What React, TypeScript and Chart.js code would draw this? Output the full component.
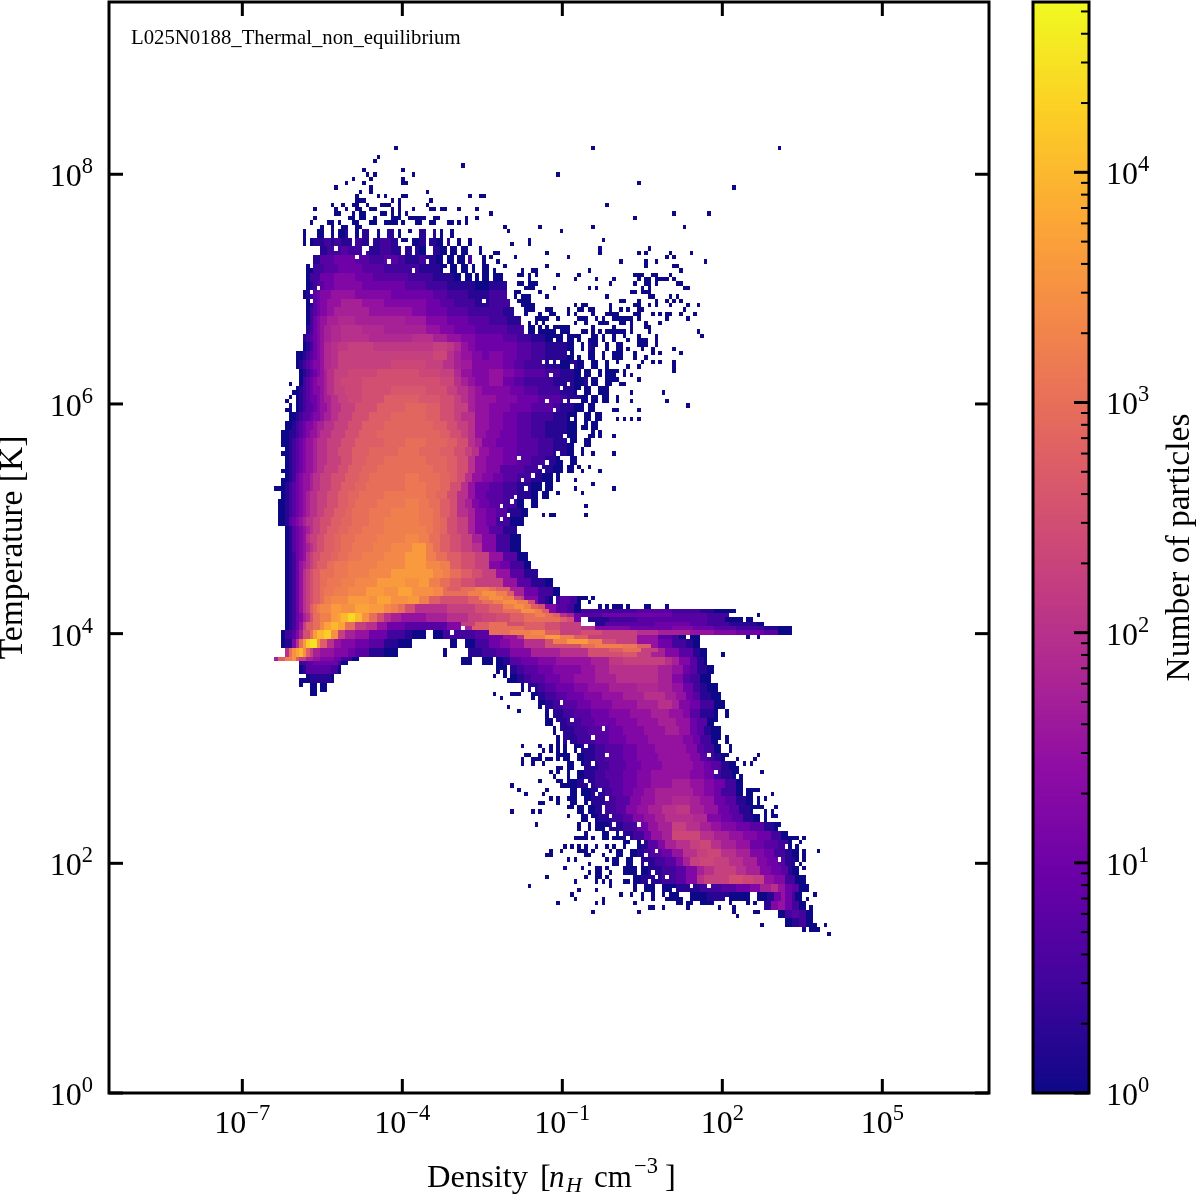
import React, { useEffect, useRef } from "react";
import { Chart, registerables } from "chart.js";

Chart.register(...registerables);

// Histogram grid: 250 x 250 bins, log10 density -9.5..7, log10 temperature 9.5..0 (row 0 on top)
const logDensityMin = -9.5;
const logDensityMax = 7;
const logTempMin = 0;
const logTempMax = 9.5;
const binCount = 250;
const logCountMax = 4.74;
const levelStep = 0.125; // a = 10^0 particles, A = 10^0.125, b = 10^0.25, ...
const levelLetters = "aAbBcCdDeEfFgGhHiIjJkKlLmMnNoOpPqQrRsStT";

const xTickValues = [1e-7, 1e-4, 1e-1, 1e2, 1e5];
const yTickValues = [1, 1e2, 1e4, 1e6, 1e8];
const barTickValues = [1, 10, 100, 1000, 10000];

// [row, run-length cells]: "<first column><level>..." spanning two rows; "." = empty
const bodyRows: [number, string][] = [
  [52, "55a56.59a61.63a64.65a67b68.70a71.72b74.76a77.79b81.82a83.85a86.88b90.92b93.94a95.97a98."],
  [54, "55a56.57a58b61c63b64c66b69.70c72b74.75b77c80b82.83a85.86a88b90.91b93a95.96b97.99a100.102a103."],
  [56, "60b62c66d68c70c72.73c74b77c80b83.84b86.87b88a90.92b94a96.97a99.100a102.105a106."],
  [58, "58b60d64e70d74c78d82c84b88c90b93a95.96a98.99a101.102c103.106a107."],
  [60, "56a58c61d65e72d78c82c88b94a96.97a99.100a102.103a104.106a108."],
  [62, "56a57c60e64f70e75d80d85c92b98a100.101a103.104a105.106a108.109a112."],
  [64, "56a57b58c59d61e64f70f72e78e84d88d90c96b104a108b113."],
  [66, "55a56b57c58d59e60f63g70f75f80e86e92d96c102b108c113."],
  [68, "56a57b58d59e60f62g66h72g78f84f90e94d98c104b108c114."],
  [70, "56a57c58d59e60f62g64h68h74g80g86f90e96d102c108c112b115."],
  [72, "56a57c58e59f60g62h65H70h76h80h84G90f96e102d108c113b117."],
  [74, "56b57c58e59f60g61h63H66i72H78h84h90g94f98e104d108d113c118."],
  [76, "55b56c57d58e59f60g61h63H66i70i74H80H86i92h96g100f104e108e112d116c120b124a126.127a129.130a132.133a134."],
  [78, "55a56b57c58e59f60g61H63i65I68j75I85I92j96I98H100g102f104e108e112e116d120c124b128b130a132.134a135.136b137a139.141a142.144a146."],
  [80, "53a55b56c57d58e59f60g61H63i65j72j85j92J96i98h100g103f106e108f112e116d120c124b128b130a132.133a134.136a138.140a141.143a146."],
  [82, "53a54b55c56d57e58f60g61H63i65j70j80J90j95i98h100G103f106f108f112e115d118c124b128a131b133a135.137a139.141a142."],
  [84, "54a55b56c57d58e59f60g61h62i64j68J76k88J94j98H100g103f108g112f115e118d124c128b132a134.135a137.139a140.141a144."],
  [86, "54a55c56d57e58f59g61h62i64j66J72k88k94J98i100h102g104f108g112e115d118c126b132a135b136.137a139.141a143."],
  [88, "53a54b55c56d57e58f60g61h62i64j67J72k80K90k96j99i102h104g106f110f114e118d122c128b132a134.135a137.139a142."],
  [90, "53a54b55c56d57e59f60g61h63i65j68J72k78l88K94k98j100i102h104g106g110f116e122d128c130b134a136.137a139.140a142."],
  [92, "51a52.53a54b55c56d58e59f60g62h63i66j70k76l84L90l94k98j102h104g108f114e120d126c128b132a135.136a138."],
  [94, "51a53b54c55d57e58f60g61h63i65j69k74l80L90l94k98j100i104g108f112e116d120c126b130a133.135a137.138a140."],
  [96, "50a52b53c54d55e56f58g59h61i64j68k72l78L92l96k99j102i104g108f112e116d120c124b130a133.134a136.137a139."],
  [98, "49a51b53c54d55e56f57g59h60i63j67k71l76L94l97k100j102i104g107f111e116d120c124b130a133.136a138.139a140."],
  [100, "49a51b52c53d54e55f56g58h59i62j66k70l78L84m90L96l99k102i104h106f110e116d122c126b130a133.135a137."],
  [102, "50a51b52c53d54e55f56g58h59i62j65k69l74L82m88L94l98k101j103i105g108f112e116d122c126b130a132.134a135."],
  [104, "50a51b52c53d54e55f56g58h59i62j66k69l73L78m90L96l99k102i104g107f112e116d120c124b127a129.131a133."],
  [106, "50a51b52c53d54e55f56g58h59i61j65k68l72L76m92L96l99k102i104g107f111d118c122b126a129.130a132."],
  [108, "50a51b52c53e54f55g57h58i60j63k67l71L74m84M88m94L97l99k101i103g106f109e112d116c120b123a126.127a128."],
  [110, "49a50b51c52d53e54f55g57h58i60j63k66l70L73m84M90m94L97k100i102g104e108d112c116b120a123.124a126."],
  [112, "49a50b51c52d53e54f55g56h57i59j62k65l68L71m78M90m93L96k99i102g104e107d112c116b120a122.123a125."],
  [114, "48a50b51c52d53e54f55g56h57i59j62k65l68L70m76M84n88M91m94l97k99i101h103f105e108d112c116a118.120a122."],
  [116, "48a50b51c52d53e54f55g56h57i59j61k64l67L69m74M80n88M92m94l97k99i102h104f107e110d113b117a119."],
  [118, "48a50b51d52e53f54g55h56i58j60k63l66L69m74M78n88M92m94L96k99j102h104f107e110c114a118."],
  [120, "50a51b52d53e54f55g56h57i58j60k62l65L68m72M78n86n90M92m94L96k99j102h104f108d112b116."],
  [122, "50a51b52d53e54f55g56i57j59k61l64L66m70M76n84N88n91m94l97k100j103h106f110c114a117."],
  [124, "50a51b52d53e54f55g56h57i58j59k61l64L66m69M75n80N86O90n92m94l97k100j103i106f110c114a117."],
  [126, "50a51b52c53e54f55g56i57j58k60l63L65m68M72n78N84O90n93m96l100k104j108g112d116a119."],
  [128, "50a51b52c53e54g55h56i57j58k59l62m64M68n76N84O90N94n97l100k104j108f111e114c118a120."],
  [130, "50a51b52c53e54g55i56j57k58l60m64M68n74N80O88O92N95n97m100l103k106j110g114d118b122."],
  [132, "50a51b52c53e54g55i56j57k58l60m62M66n70N76O84o88O91n94m97l100k104j108j112g116d120b124a126."],
  [134, "50a51b52c53e54g55i56j57k58l60m61M64n68N73O78o82p86o92N95m98m102M106n110l114h118e122c126a128."],
  [136, "50a51b52c53e54g55i56j57k58l60m61n63N68O74o76p80o85O88n91l94k98k102l106m110l114j118f122c124b125a126.127c128d131c133a134."],
  [138, "50a51b52c53e54g55i56j57l58m59n60N63O66o70p74O78N80n82m84k87i91i96j100j104k108l112m116n120k124f127d130c132a134."],
  [140, "50a51b52c53e54f55h56i57k58m60n63O65p66q68R70q72o74m76k78i80h83g90h96i102j106J110k114l118m122k126j128i130h132e134."],
  [142, "50a51b52c53e54g55j56l58m60N61p63q65p67m70j73i76g79e84d90d96f100h104j108k114k118l124k128j134."],
  [144, "49a50c52d53f54h55k57m58O59q61r63o65j67h70g74e79c84b86a90.92a95c100c104d108e112g116i120j126j134."],
  [146, "49a50b52f53i54m55O56r57s59o60l62i64g66f70e74d78b82a86.97a99.101a104c108e111f114g118i124k130k136l144j150g156e160c164b166a168."],
  [148, "50i51m52o53p54q55o56l57j58h60g64f68e70d74b78a82.95a96.102b106c110d114f120h128i136k146K150j154h158f162d166b168a170."],
  [150, "47h48l50n52o53l54j56h58g60f64e66c69a71.100a103.106a109.110a112b114d117e122f127g132g137h142I146j154j158i160h162f165d167b169a170."],
  [152, "54a55b56d60d63c65a66.110a113.114b116c118d122e126f130f134g138h142i150i156h160g163e165d167b170a172."],
  [154, "56a57b60b63a64.112a113.114a116b118c120d124e128f132g138h144i152i156h160f163d165c168a171."],
  [156, "57a59.60a62.117a118.119b122c124d127e132f136g142h150H156h160g163e166c168b170a173."],
  [158, "120a122b124c127d130e135f140g146h152i158h161g164e166d168b171a174."],
  [160, "122a124b126c129d133e137f143g150h156i160h162f165e168c172a175."],
  [162, "124a125.126b129c132d137e142f148g154h159g163f165d168b172a173.175a176."],
  [164, "124a126.127b130c134d138e144f150g156h161g165e167d170a173."],
  [166, "126a127.128b132c136d142e146f152g158h162g165e167d169b171a174."],
  [168, "127a128.129b133c138d142e147f153g158g163f166e168c171a174.175a176."],
  [170, "129a130.132a134b138c141d146e150f155g160g164f167d169c172a174.176a177."],
  [172, "129a131.133a135b138c141d146e150f156g162g165f168d170c172b174a176."],
  [174, "130a132.134a135b139c142d147e151f157g164g166f169e171d174b176a178."],
  [176, "130a131.133a135b138c141d146e150f154g162g165f169e172c174b177a179."],
  [178, "130a133b138c142d146e150f154g160h165g169f172e175c178a180."],
  [180, "131a133.134a137b141c143d146e149f152g155h162h166g169f172e174c178a180.181a183."],
  [182, "131a133.135a137b141c144d148f151g155h160H165h168g172e175d178b181a183.184a185."],
  [184, "133a135.136a138b141c144d147f150g153h157i161I165h169g173e176d179b182a184."],
  [186, "134a136.137a139b143c146d149f152g155h158i162i166H170f174e177d180b183a185.186a187."],
  [188, "133a134.136a137.138a142b146c150e153g156h160j164i168h171g174f178e182d186b189a191."],
  [190, "135a136.140a142.144a146b149c152e154g157h160J164J168i172h176g180f184e188c191a193."],
  [192, "146a148.150a151b153d156f158h161i165j168J171i174h178g182e186d190c193a194."],
  [194, "144a146.148a150b152c154d157e160g163i167j170J174i178h182f186e189c192b194a196."],
  [196, "143a145.147a149.151b155c158d161f163h165j168J172j176i180h184f187e190d192b195a196."],
  [198, "146a150.151a153b157c161d164f167h169i172j175j178i181h185f188e191d193b194a196."],
  [200, "149a151b157c161d164f167i169j172j176k180J183j186g189f192c195a198."],
  [202, "152a155.157a161b168c174d178e182f185h188i190g192e194d196a199."],
  [204, "159a162.165a170b176a182.184a187b189e191g192e194c195a197."],
  [206, "186b188f190g192e194c196a198."],
  [208, "190a192c194d196c198a200."],
  [210, "192a194b196c198a200."],
];

// Thin filaments and bands, one row each, drawn over the body
const thinRows: [number, string][] = [
  [134, "96l100m104n108m110."],
  [135, "102n106o110n113l115."],
  [136, "105n108o112n115k117."],
  [137, "109n112o116n119k121."],
  [138, "112n115o118n120l122."],
  [139, "114m117o121n123l125.134c150d160c168b172a178."],
  [140, "118m121n124m126l128.134d140e160d170c176."],
  [141, "122m124m128l130k132.136b142c150d160d170c175a180."],
  [142, "100j104l108m113k115.138b141d155e165d170c176b184a186."],
  [143, "103l108m113m118l122.134i138f148e160f166e172d178c186b190a194."],
  [144, "108m114n120N124l128.134k140j150i156h165g172f178e186d190a194."],
  [145, "118n124O128n132l136j150g156d160c162a164.165a168."],
  [146, "126n130O136n140k144."],
  [147, "134m138n146M150l154."],
  [148, "142l146m151j156."],
  [151, "54c56d58e62e65c66a68."],
];

// Single low-count bins outside the body: [row, columns]
const speckRows: [number, number[]][] = [
  [33, [81, 137, 190]], [35, [76]], [36, [75]], [37, [100]], [38, [72, 83]], [39, [73, 75, 86, 127]],
  [40, [69, 74, 83]], [41, [67, 72, 83, 84, 150]], [42, [64, 74, 177]], [43, [74, 71, 90]],
  [44, [70, 76, 78, 83, 84, 102, 105, 106]], [45, [70, 71, 72, 80, 82, 91]],
  [46, [63, 66, 69, 70, 73, 77, 78, 79, 82, 90, 141]],
  [47, [58, 64, 67, 70, 71, 74, 75, 80, 82, 86, 91, 92, 94, 95, 99, 104]],
  [48, [64, 65, 69, 71, 72, 77, 78, 80, 82, 84, 108, 160, 170]],
  [49, [58, 68, 69, 71, 72, 75, 80, 81, 82, 85, 86, 87, 88, 89, 92, 93, 101, 104, 149]],
  [50, [57, 62, 63, 65, 69, 70, 74, 75, 78, 79, 80, 81, 83, 87, 88, 91, 92, 96, 97, 99, 101]],
  [51, [60, 63, 66, 67, 70, 71, 112, 122, 137, 163]], [52, [113, 128]], [54, [140, 119]],
  [55, [114, 119]], [56, [139, 153]], [57, [139, 109, 110, 124, 150, 152, 159, 165]],
  [58, [108, 115, 130, 158, 160]], [59, [110, 145, 152, 155, 169]], [60, [112, 124, 152, 160, 161]],
  [61, [109, 117, 120, 121, 136, 162]], [62, [116, 117, 119, 121, 127, 133, 149, 150, 151, 154, 155, 159]],
  [63, [119, 132, 138, 143, 150, 152, 153, 155, 156, 157, 158, 160]],
  [64, [116, 117, 119, 120, 121, 142, 149, 152, 153, 155, 161, 162]],
  [65, [118, 119, 120, 126, 136, 138, 151, 153, 163, 164]], [66, [115, 116, 122, 148, 149, 151, 152, 153]],
  [67, [115, 117, 118, 119, 124, 141, 153, 154, 159, 161]], [68, [116, 117, 118, 119, 145, 146, 150, 155, 158, 160, 162]],
  [69, [117, 118, 119, 120, 132, 134, 135, 142, 149, 150, 153, 155, 159, 164, 167]],
  [70, [118, 119, 120, 124, 125, 130, 133, 134, 136, 137, 142, 145, 147, 150, 151, 163]],
  [71, [118, 122, 125, 126, 130, 132, 137, 141, 142, 143, 144, 149, 150, 154, 156, 158, 159, 162, 166]],
  [72, [121, 122, 123, 124, 127, 133, 134, 135, 138, 140, 143, 144, 145, 146, 147, 148, 150, 158, 164]],
  [73, [119, 121, 123, 132, 135, 139, 140, 141, 145, 146, 148, 152, 156]],
  [74, [119, 120, 122, 124, 126, 127, 128, 129, 130, 137, 143, 148, 152, 153]],
  [75, [119, 120, 122, 123, 124, 125, 126, 128, 129, 130, 134, 135, 137, 139, 141, 142, 143, 144, 145, 146, 148, 153, 167]],
  [76, [122, 124, 126, 128, 130, 132, 133, 137, 138, 140, 143, 146, 150, 155, 168]],
  [77, [136, 137, 138, 140, 143, 147, 150, 151, 152, 155]], [78, [150, 151, 152, 155]],
  [79, [147, 151, 154, 160]], [80, [149, 154, 156, 162]], [81, [149, 152]], [82, [144, 151, 154, 156, 160]],
  [83, [147, 150, 160]], [84, [144, 146, 160]], [85, [146, 148]], [86, [143, 144, 150]], [87, [145, 146, 51]],
  [89, [148, 157, 52]], [90, [144, 51]], [91, [144, 148, 158, 50]], [92, [164]], [93, [143, 144, 150, 50]], [95, [144, 146, 148, 150]],
  [99, [143, 49]], [103, [137, 143, 49]], [106, [133, 136]], [107, [134, 139, 49]], [109, [132, 49]], [110, [137]],
  [111, [125, 132, 143, 47, 48]], [112, [127, 134]], [113, [49]], [115, [135]], [117, [123, 125, 126, 135, 49]], [119, [49]],
  [155, [113, 114, 54, 55]], [154, [109]], [156, [54]], [157, [58, 60, 61]], [158, [109, 114, 115, 116, 57, 58]], [159, [111]], [161, [113]], [162, [116]],
  [136, [133, 134, 135, 137]], [137, [136]], [138, [139, 141, 143, 144, 145, 147, 152, 153, 158]],
  [140, [184]], [141, [181, 182]], [145, [181, 184]], [149, [174]],
  [170, [117, 122, 125, 127]], [171, [123, 125, 127]], [172, [118, 119, 122, 127, 128, 129, 184]],
  [173, [117, 120, 121, 122, 124, 125, 127, 129, 178, 183]], [174, [117, 120, 123, 174, 177, 180, 182]],
  [175, [127, 128, 178]], [176, [125, 127, 185]], [177, [126, 178, 179]], [178, [122, 127, 128]],
  [179, [114, 128, 129]], [180, [116, 124, 182, 183, 184]], [181, [118, 123, 188]], [182, [125, 127, 130, 186]],
  [183, [122, 123, 127]], [184, [130, 131, 182, 183, 184, 185, 189]], [185, [114, 120, 122, 186, 188]],
  [186, [130, 184, 186, 188, 189]], [188, [121, 185, 187]], [190, [189]],
  [191, [132, 133, 134, 137, 141, 143, 193, 194, 195, 197]], [192, [196]], [193, [129, 131, 133, 135, 138, 141, 143, 195]],
  [194, [125, 128, 133, 134, 135, 137, 142, 201, 197]], [195, [124, 125, 135, 136, 140, 197]], [196, [130, 132, 141, 197]],
  [197, [136, 196]], [198, [129, 134, 138, 139, 141, 197]], [199, [136, 138, 139, 142]], [200, [124, 135, 138, 139, 141]],
  [201, [132, 138, 140, 142, 146, 147]], [202, [119, 142, 149]], [203, [133, 138, 149]],
  [204, [131, 145, 148, 151, 154, 157, 200]], [205, [132, 140, 151, 154, 158, 161, 162, 196, 198]],
  [206, [127, 138, 140, 149, 161, 162, 164, 165, 168, 169, 170, 171, 176, 181, 183, 186]],
  [207, [153, 154, 157, 164, 173, 177, 199]], [208, [137, 150, 177, 183, 184]], [209, [178]],
  [211, [185, 198, 199, 200, 203]], [212, [197, 199, 200, 201]], [213, [204]],
];

// Empty bins inside the fringe of the body: [row, column]
const holes: [number, number][] = [
  [56, 64], [56, 73], [58, 70], [59, 79], [60, 57], [61, 95], [63, 105], [65, 59], [66, 57], [68, 57], [68, 106],
  [55, 83], [55, 84], [55, 85], [53, 85], [57, 72], [59, 90], [61, 86], [62, 100], [80, 130], [80, 133], [82, 123],
  [82, 125], [82, 127], [85, 125], [88, 128], [91, 124], [91, 131], [91, 132], [91, 133], [93, 126], [104, 116],
  [109, 117], [114, 114], [118, 111], [96, 134], [98, 136], [100, 130], [104, 128], [106, 122], [108, 120],
  [143, 100], [144, 97], [160, 128], [164, 131], [166, 140], [168, 137], [170, 135], [172, 141], [172, 170],
  [174, 137], [176, 172], [178, 135], [180, 139], [182, 141], [184, 140], [186, 142], [188, 143], [188, 150],
  [190, 145], [192, 151], [194, 155], [196, 190], [198, 150], [200, 155], [200, 158], [202, 165], [202, 170],
  [151, 47], [151, 48], [151, 49], [151, 50], [151, 51], [151, 52], [151, 53], [151, 68], [151, 69], [151, 70],
  [99, 129], [101, 132], [103, 127], [105, 124], [107, 123], [111, 118], [113, 115], [115, 111], [117, 113],
  [153, 111], [155, 112], [157, 120], [159, 121], [161, 123], [163, 125], [165, 127], [167, 128], [169, 130],
  [171, 133], [173, 131], [175, 134], [177, 132], [179, 136], [181, 138], [183, 136], [185, 140], [187, 137],
  [189, 141], [191, 147], [193, 147], [195, 152], [197, 152], [199, 154], [201, 153], [203, 160], [205, 175],
  [165, 172], [169, 173], [173, 175], [177, 178], [181, 180], [185, 183], [189, 190], [193, 192], [197, 195],
  [79, 138], [81, 135], [83, 131], [85, 134], [87, 130], [89, 133], [91, 129], [93, 135], [95, 131], [97, 133],
];

const plasmaAnchors = ["#0d0887", "#41049d", "#6a00a8", "#8f0da4", "#b12a90", "#cc4778", "#e16462", "#f2844b", "#fca636", "#fcce25", "#f0f921"];

function plasma(t: number): string {
  const s = Math.max(0, Math.min(1, t)) * (plasmaAnchors.length - 1);
  const k = Math.min(plasmaAnchors.length - 2, Math.floor(s));
  const f = s - k;
  const rgb = (h: string) => [1, 3, 5].map((o) => parseInt(h.slice(o, o + 2), 16));
  const a = rgb(plasmaAnchors[k]);
  const b = rgb(plasmaAnchors[k + 1]);
  return `rgb(${a.map((v, n) => Math.round(v + (b[n] - v) * f)).join(",")})`;
}

function buildCells(): Map<number, number> {
  const cells = new Map<number, number>();
  const paint = (row: number, text: string) => {
    const runs = [...text.matchAll(/(\d+)([a-zA-Z.])/g)];
    runs.forEach((m, n) => {
      if (m[2] === "." || n + 1 >= runs.length) return;
      const end = Number(runs[n + 1][1]);
      for (let c = Number(m[1]); c < end; c++) cells.set(row * binCount + c, levelLetters.indexOf(m[2]));
    });
  };
  bodyRows.forEach(([row, text]) => {
    paint(row, text);
    paint(row + 1, text);
  });
  thinRows.forEach(([row, text]) => paint(row, text));
  speckRows.forEach(([row, cols]) => {
    cols.forEach((c) => {
      const key = row * binCount + c;
      if (!cells.has(key)) cells.set(key, 0);
    });
  });
  holes.forEach(([row, c]) => cells.delete(row * binCount + c));
  return cells;
}

const SERIF = "'Liberation Serif', 'Times New Roman', serif";
const powerLabel = (v: number | string) => "10^" + Math.round(Math.log10(Number(v)));

function strokeLine(ctx: CanvasRenderingContext2D, x0: number, y0: number, x1: number, y1: number, w: number) {
  ctx.lineWidth = w;
  ctx.beginPath();
  ctx.moveTo(x0, y0);
  ctx.lineTo(x1, y1);
  ctx.stroke();
}

// "10" with a raised exponent; align is where x sits in the label
function drawPower(ctx: CanvasRenderingContext2D, value: number, x: number, baseline: number, align: "left" | "center" | "right") {
  const e = String(Math.round(Math.log10(value))).replace("-", "\u2212");
  ctx.textAlign = "left";
  ctx.textBaseline = "alphabetic";
  ctx.fillStyle = "#000";
  ctx.font = `32px ${SERIF}`;
  const w0 = ctx.measureText("10").width;
  ctx.font = `22.5px ${SERIF}`;
  const w1 = ctx.measureText(e).width;
  const start = align === "left" ? x : align === "right" ? x - w0 - w1 : x - (w0 + w1) / 2;
  ctx.font = `32px ${SERIF}`;
  ctx.fillText("10", start, baseline);
  ctx.font = `22.5px ${SERIF}`;
  ctx.fillText(e, start + w0, baseline - 13);
}

const cellPlugin = {
  id: "cells",
  beforeDatasetDraw(chart: any, args: any) {
    const { ctx, scales } = chart;
    const half = 10 ** ((logDensityMax - logDensityMin) / binCount / 2);
    const halfY = 10 ** ((logTempMax - logTempMin) / binCount / 2);
    ctx.save();
    ctx.fillStyle = chart.data.datasets[args.index].backgroundColor;
    for (const p of chart.data.datasets[args.index].data) {
      const x0 = Math.round(scales.x.getPixelForValue(p.x / half));
      const x1 = Math.round(scales.x.getPixelForValue(p.x * half));
      const y0 = Math.round(scales.y.getPixelForValue(p.y * halfY));
      const y1 = Math.round(scales.y.getPixelForValue(p.y / halfY));
      ctx.fillRect(x0, y0, x1 - x0, y1 - y0);
    }
    ctx.restore();
    return false;
  },
};

const framePlugin = {
  id: "frame",
  afterDatasetsDraw(chart: any) {
    const { ctx, chartArea: a, scales } = chart;
    ctx.save();
    ctx.strokeStyle = "#000";
    for (const t of scales.x.ticks) {
      const x = scales.x.getPixelForValue(t.value);
      strokeLine(ctx, x, a.bottom, x, a.bottom - 14, 3);
      strokeLine(ctx, x, a.top, x, a.top + 14, 3);
      drawPower(ctx, t.value, x, 1133, "center");
    }
    for (const t of scales.y.ticks) {
      const y = scales.y.getPixelForValue(t.value);
      strokeLine(ctx, a.left, y, a.left + 14, y, 3);
      strokeLine(ctx, a.right, y, a.right - 14, y, 3);
      drawPower(ctx, t.value, 93, y + 12, "right");
    }
    ctx.lineWidth = 3;
    ctx.strokeRect(a.left, a.top, a.right - a.left, a.bottom - a.top);
    ctx.fillStyle = "#000";
    ctx.textAlign = "left";
    ctx.textBaseline = "alphabetic";
    ctx.font = `20.75px ${SERIF}`;
    ctx.fillText("L025N0188_Thermal_non_equilibrium", 131, 44);
    // x axis title with italic symbol, subscript and superscript
    const part = (text: string, x: number, font: string, dy: number) => {
      ctx.font = font;
      ctx.fillText(text, x, 1187 + dy);
    };
    part("Density", 427, `32.5px ${SERIF}`, 0);
    part("[", 540, `32.5px ${SERIF}`, 0);
    part("n", 549, `italic 31px ${SERIF}`, 0);
    part("H", 566, `italic 22px ${SERIF}`, 5);
    part("cm", 594, `31px ${SERIF}`, 0);
    part("\u22123", 634, `22.5px ${SERIF}`, -14);
    part("]", 665, `32.5px ${SERIF}`, 0);
    ctx.restore();
  },
};

const barFramePlugin = {
  id: "barFrame",
  afterDatasetsDraw(chart: any) {
    const { ctx, chartArea: a, scales } = chart;
    ctx.save();
    ctx.strokeStyle = "#000";
    for (let e = 0; e <= 4; e++) {
      for (let m = 1; m <= 9; m++) {
        const v = m * 10 ** e;
        if (v > 10 ** logCountMax) continue;
        const y = scales.y.getPixelForValue(v);
        if (m === 1) {
          strokeLine(ctx, a.right, y, a.right - 15, y, 3);
          drawPower(ctx, v, 106, y + 12, "left");
        } else strokeLine(ctx, a.right, y, a.right - 8, y, 2);
      }
    }
    ctx.lineWidth = 3;
    ctx.strokeRect(a.left, a.top, a.right - a.left, a.bottom - a.top);
    ctx.translate(180, (a.top + a.bottom) / 2);
    ctx.rotate(-Math.PI / 2);
    ctx.fillStyle = "#000";
    ctx.textAlign = "center";
    ctx.textBaseline = "middle";
    ctx.font = `33.5px ${SERIF}`;
    ctx.fillText("Number of particles", 0, 0);
    ctx.restore();
  },
};

const zeroPadding = (s: any) => {
  s.paddingLeft = 0;
  s.paddingRight = 0;
  s.paddingTop = 0;
  s.paddingBottom = 0;
};

export default function App() {
  const mainRef = useRef<HTMLCanvasElement>(null);
  const barRef = useRef<HTMLCanvasElement>(null);

  useEffect(() => {
    document.body.style.margin = "0";
    const cells = buildCells();
    const byLevel: { x: number; y: number }[][] = levelLetters.split("").map(() => []);
    cells.forEach((level, key) => {
      const row = Math.floor(key / binCount);
      const col = key % binCount;
      byLevel[level].push({
        x: 10 ** (logDensityMin + ((col + 0.5) * (logDensityMax - logDensityMin)) / binCount),
        y: 10 ** (logTempMax - ((row + 0.5) * (logTempMax - logTempMin)) / binCount),
      });
    });
    const main = new Chart(mainRef.current!, {
      type: "scatter",
      data: {
        datasets: byLevel.map((data, level) => ({
          label: `10^${level * levelStep}`,
          data,
          backgroundColor: plasma((level * levelStep) / logCountMax),
          pointRadius: 0,
        })),
      },
      plugins: [cellPlugin, framePlugin],
      options: {
        responsive: false,
        devicePixelRatio: 1,
        animation: false,
        parsing: false,
        layout: { padding: { left: 0, top: 2, right: 211, bottom: 0 } },
        plugins: { legend: { display: false }, tooltip: { enabled: false } },
        scales: {
          x: {
            type: "logarithmic",
            min: 10 ** logDensityMin,
            max: 10 ** logDensityMax,
            bounds: "data",
            grid: { display: false },
            border: { display: false },
            ticks: { display: false, autoSkip: false, callback: powerLabel },
            afterBuildTicks: (s: any) => { s.ticks = xTickValues.map((value) => ({ value })); },
            afterFit: (s: any) => { s.height = 107; zeroPadding(s); },
          },
          y: {
            type: "logarithmic",
            min: 10 ** logTempMin,
            max: 10 ** logTempMax,
            bounds: "data",
            grid: { display: false },
            border: { display: false },
            title: { display: true, text: "Temperature [K]", color: "#000", font: { family: SERIF, size: 33.5, lineHeight: 0.78 }, padding: 0 },
            ticks: { display: false, autoSkip: false, callback: powerLabel },
            afterBuildTicks: (s: any) => { s.ticks = yTickValues.map((value) => ({ value })); },
            afterFit: (s: any) => { s.width = 109; zeroPadding(s); },
          },
        },
      },
    } as any);

    const barSteps = Array.from({ length: 240 }, (_, k) => ((k + 1) / 240) * logCountMax);
    const bar = new Chart(barRef.current!, {
      type: "bar",
      data: {
        labels: ["count"],
        datasets: barSteps.map((lg) => ({
          data: [[1, 10 ** lg]],
          backgroundColor: plasma(lg / logCountMax),
          borderWidth: 0,
          barPercentage: 1,
          categoryPercentage: 1,
          grouped: false,
        })),
      },
      plugins: [barFramePlugin],
      options: {
        responsive: false,
        devicePixelRatio: 1,
        animation: false,
        layout: { padding: { left: 33, top: 2, right: 0, bottom: 107 } },
        plugins: { legend: { display: false }, tooltip: { enabled: false } },
        scales: {
          x: { display: false, stacked: false },
          y: {
            type: "logarithmic",
            position: "right",
            min: 1,
            max: 10 ** logCountMax,
            bounds: "data",
            grid: { display: false },
            border: { display: false },
            ticks: { display: false, autoSkip: false, callback: powerLabel },
            afterBuildTicks: (s: any) => { s.ticks = barTickValues.map((value) => ({ value })); },
            afterFit: (s: any) => { s.width = 111; zeroPadding(s); },
          },
        },
      },
    } as any);
    return () => {
      main.destroy();
      bar.destroy();
    };
  }, []);

  return (
    <div style={{ position: "relative", width: 1200, height: 1200, background: "#fff" }}>
      <canvas ref={mainRef} width={1200} height={1200} style={{ position: "absolute", left: 0, top: 0 }} />
      <canvas ref={barRef} width={200} height={1200} style={{ position: "absolute", left: 1000, top: 0 }} />
    </div>
  );
}
